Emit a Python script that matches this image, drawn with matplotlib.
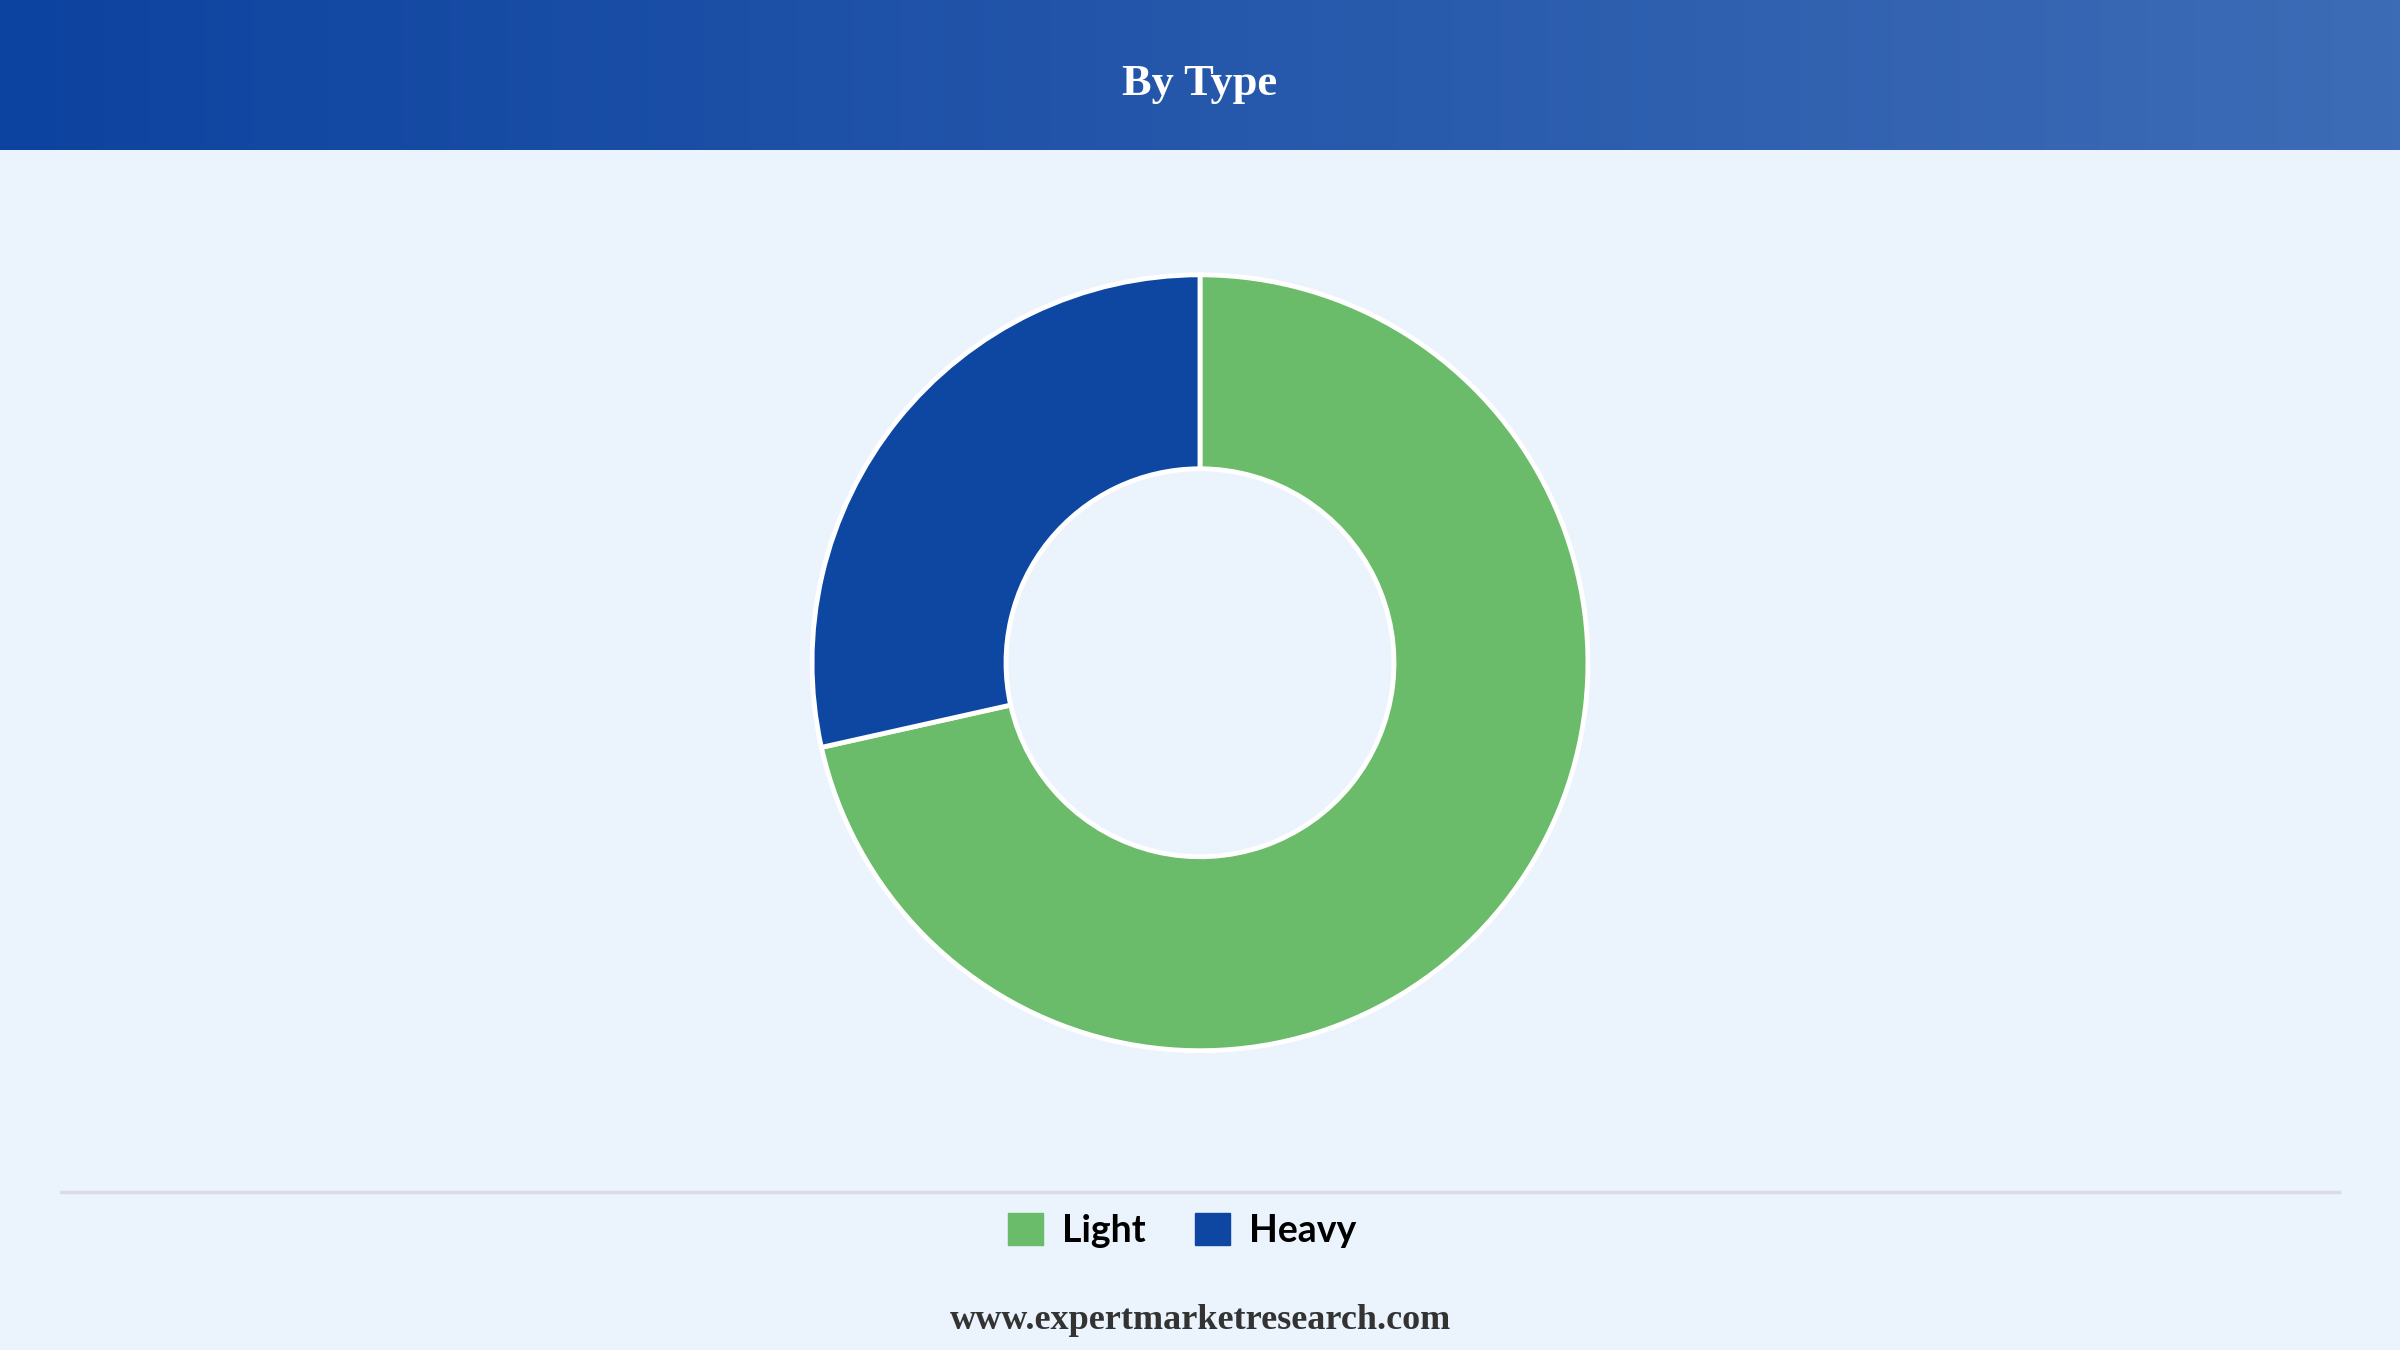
import matplotlib.pyplot as plt
import numpy as np
from matplotlib.patches import Patch
from matplotlib.colors import LinearSegmentedColormap

CATEGORIES = ["Light", "Heavy"]
SHARES = [71.5, 28.5]
COLORS = ["#6abb6a", "#0d47a1"]

BG = "#ebf3fc"

fig = plt.figure(figsize=(24, 13.5), dpi=100, facecolor=BG)

# header band with horizontal gradient
hdr = fig.add_axes([0, 1 - 98 / 882, 1, 98 / 882])
grad = np.linspace(0, 1, 512).reshape(1, -1)
cmap = LinearSegmentedColormap.from_list("hdr", ["#0d43a0", "#3d6cb6"])
hdr.imshow(grad, aspect="auto", cmap=cmap, extent=[0, 1, 0, 1])
hdr.set_axis_off()
hdr.text(0.5, 0.44, "By Type", ha="center", va="center", color="white",
         fontsize=32, fontweight="bold", family="Liberation Serif")

# donut
cy = 1 - 433 / 882
rh = 256 / 882
rw = rh * 1350 / 2400
ax = fig.add_axes([0.5 - rw, cy - rh, 2 * rw, 2 * rh])
ax.set_facecolor(BG)
ax.pie(SHARES, colors=COLORS, startangle=90, counterclock=False, radius=1,
       wedgeprops=dict(width=0.5, edgecolor="white", linewidth=3.5))
ax.set_xlim(-1.01, 1.01)
ax.set_ylim(-1.01, 1.01)
ax.set_aspect("equal")

# separator line
fig.add_artist(plt.Line2D([40 / 1568, 1528 / 1568], [1 - 779 / 882] * 2,
                          color="#d9dde3", linewidth=2.5))

handles = [Patch(facecolor=c, edgecolor=c) for c in COLORS]
fig.legend(handles, CATEGORIES, loc="center", bbox_to_anchor=(0.4925, 1 - 804 / 882),
           ncol=2, frameon=False, handlelength=0.95, handleheight=0.95,
           columnspacing=1.3, handletextpad=0.5,
           prop=dict(family="Lato", weight="bold", size=27))

fig.text(0.5, 1 - 863 / 882, "www.expertmarketresearch.com", ha="center", va="center",
         fontsize=26, fontweight="bold", family="Liberation Serif", color="#333333")

fig.savefig("out.png", dpi=100, facecolor=BG)
